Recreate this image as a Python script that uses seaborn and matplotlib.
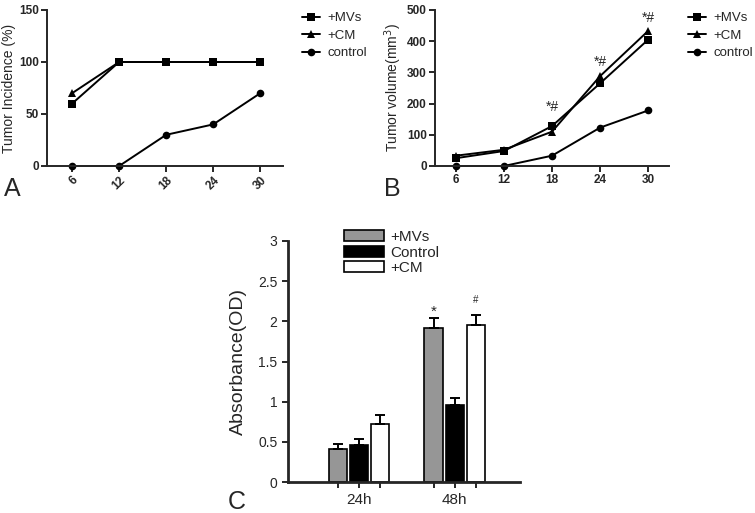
#! /usr/bin/env python3

import numpy as np
import pandas as pd
import seaborn as sns
import matplotlib.pyplot as plt

# panel A / B: days after injection
days = [6, 12, 18, 24, 30]
line_groups = ['+MVs', '+CM', 'control']

incidence_mvs = [60, 100, 100, 100, 100]
incidence_cm = [70, 100, 100, 100, 100]
incidence_ctrl = [0, 0, 30, 40, 70]

volume_mvs = [25, 48, 128, 265, 405]
volume_cm = [33, 52, 110, 288, 433]
volume_ctrl = [0, 0, 33, 123, 178]
volume_marks_y = [190, 333, 474]   # height of the "*#" labels at day 18, 24, 30

# panel C: absorbance
times = ['24h', '48h']
bar_groups = ['+MVs', 'Control', '+CM']
od_mvs = [0.41, 1.92]
od_ctrl = [0.46, 0.96]
od_cm = [0.72, 1.96]
err_mvs = [0.06, 0.12]
err_ctrl = [0.08, 0.09]
err_cm = [0.11, 0.12]

sns.set_theme(style='ticks')
plt.rcParams['font.family'] = ['Liberation Sans', 'DejaVu Sans']

W, H = 755, 513


def px_axes(fig, left, top, right, bottom):
    return fig.add_axes([left / W, 1 - bottom / H, (right - left) / W,
                         (bottom - top) / H])


def long_form(a, b, c):
    rows = []
    for name, vals in zip(line_groups, [a, b, c]):
        for d, v in zip(days, vals):
            rows.append({'day': d, 'value': v, 'group': name})
    return pd.DataFrame(rows)


def line_panel(ax, df, ylim, yticks, ylabel, legend_xy):
    sns.lineplot(data=df, x='day', y='value', hue='group', style='group',
                 hue_order=line_groups, style_order=line_groups,
                 markers={'+MVs': 's', '+CM': '^', 'control': 'o'},
                 dashes=False, palette={g: 'black' for g in line_groups},
                 markersize=5.5, linewidth=1.4, markeredgewidth=0,
                 ax=ax, clip_on=False)
    ax.set_ylim(*ylim)
    ax.set_yticks(yticks)
    ax.set_xticks(days)
    ax.set_xlabel('')
    ax.set_ylabel(ylabel, fontsize=10, labelpad=2)
    for sp in ['left', 'bottom']:
        ax.spines[sp].set_linewidth(1.4)
    sns.despine(ax=ax)
    ax.tick_params(width=1.4, length=4, labelsize=8.5, pad=2)
    for lab in ax.get_xticklabels() + ax.get_yticklabels():
        lab.set_fontweight('bold')
    handles, labels = ax.get_legend_handles_labels()
    ax.legend(handles, labels, loc='upper left', frameon=False,
              bbox_to_anchor=(legend_xy[0] / W, 1 - legend_xy[1] / H),
              bbox_transform=ax.figure.transFigure, borderpad=0,
              borderaxespad=0, handlelength=1.4, handletextpad=0.5,
              labelspacing=0.4, fontsize=9.5)


fig = plt.figure(figsize=(7.55, 5.13), dpi=100)

# ---- A ----
axA = px_axes(fig, 47, 10, 283, 166)
line_panel(axA, long_form(incidence_mvs, incidence_cm, incidence_ctrl),
           (0, 150), [0, 50, 100, 150], 'Tumor Incidence (%)', (302, 12))
axA.set_xlim(2.8, 32.9)
plt.setp(axA.get_xticklabels(), rotation=45, ha='right',
         rotation_mode='anchor')
fig.text(4 / W, 1 - 196 / H, 'A', fontsize=18)

# ---- B ----
axB = px_axes(fig, 435, 10, 669, 166)
line_panel(axB, long_form(volume_mvs, volume_cm, volume_ctrl),
           (0, 500), [0, 100, 200, 300, 400, 500],
           'Tumor volume(mm$^3$)', (688, 12))
axB.set_xlim(3.4, 32.6)
for d, y in zip(days[2:], volume_marks_y):
    axB.text(d, y, '*#', ha='center', va='center', fontsize=10)
fig.text(384 / W, 1 - 196 / H, 'B', fontsize=18)

# ---- C ----
axC = px_axes(fig, 288, 241, 520, 482)
rows = []
for name, vals in zip(bar_groups, [od_mvs, od_ctrl, od_cm]):
    for t, v in zip(times, vals):
        rows.append({'time': t, 'od': v, 'group': name})
dfc = pd.DataFrame(rows)
sns.barplot(data=dfc, x='time', y='od', hue='group', hue_order=bar_groups,
            order=times,
            palette={'+MVs': '#969696', 'Control': 'black', '+CM': 'white'},
            edgecolor='black', linewidth=1.2, width=0.66, gap=0.12,
            errorbar=None, ax=axC)
centers = []
for cont, errs in zip(axC.containers, [err_mvs, err_ctrl, err_cm]):
    for bar, e in zip(cont, errs):
        x = bar.get_x() + bar.get_width() / 2
        h = bar.get_height()
        centers.append(x)
        axC.errorbar(x, h, yerr=[[0], [e]], color='black', capsize=3.5,
                     elinewidth=1.4, capthick=1.4)
# significance marks at 48h
b_mvs = axC.containers[0][1]
b_cm = axC.containers[2][1]
axC.text(b_mvs.get_x() + b_mvs.get_width() / 2, 2.12, '*', ha='center',
         va='center', fontsize=11)
axC.text(b_cm.get_x() + b_cm.get_width() / 2, 2.27, '#', ha='center',
         va='center', fontsize=7)

axC.set_xlim(-0.74, 1.68)
axC.set_ylim(0, 3)
axC.set_yticks([0, 0.5, 1, 1.5, 2, 2.5, 3])
axC.set_yticklabels(['0', '0.5', '1', '1.5', '2', '2.5', '3'])
axC.set_xticks(centers, minor=True)
axC.tick_params(axis='x', which='minor', length=4, width=1.4)
axC.tick_params(axis='x', which='major', length=4, width=1.4,
                labelsize=11, pad=4)
axC.tick_params(axis='y', length=4, width=1.4, labelsize=10)
axC.set_xlabel('')
axC.set_ylabel('Absorbance(OD)', fontsize=14, labelpad=8)
for sp in ['left', 'bottom']:
    axC.spines[sp].set_linewidth(2)
sns.despine(ax=axC)
handles, labels = axC.get_legend_handles_labels()
axC.legend(handles, labels, loc='upper left', frameon=False,
           bbox_to_anchor=(344 / W, 1 - 230 / H),
           bbox_transform=fig.transFigure, borderpad=0, borderaxespad=0,
           handlelength=2.6, handleheight=0.7, handletextpad=0.4,
           labelspacing=0.1, fontsize=11)
fig.text(228 / W, 1 - 509 / H, 'C', fontsize=18)

plt.savefig('out.png', dpi=100)
